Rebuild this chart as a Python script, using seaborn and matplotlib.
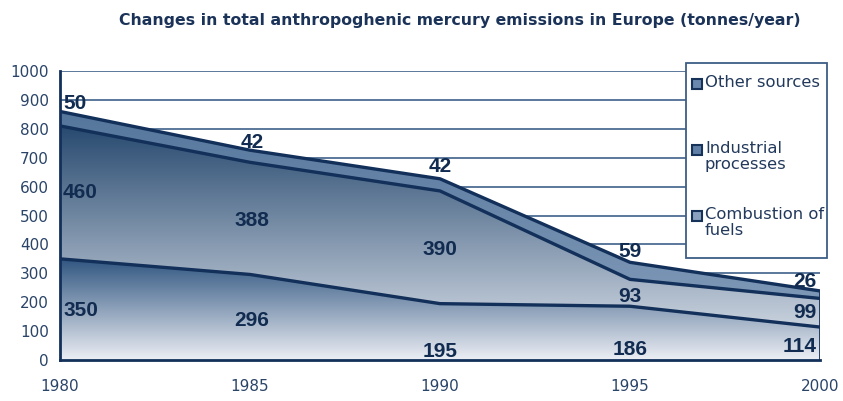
import numpy as np
import pandas as pd
import matplotlib
matplotlib.use("Agg")
import matplotlib.pyplot as plt
from matplotlib.colors import LinearSegmentedColormap
from matplotlib.patches import Rectangle
import seaborn as sns

years = [1980, 1985, 1990, 1995, 2000]
combustion = [350, 296, 195, 186, 114]
industrial = [460, 388, 390, 93, 99]
other = [50, 42, 42, 59, 26]
series_names = ["Combustion of fuels", "Industrial processes", "Other sources"]
legend_labels = ["Other sources", "Industrial\nprocesses", "Combustion of\nfuels"]
title = "Changes in total anthropoghenic mercury emissions in Europe (tonnes/year)"
yticks = list(range(0, 1001, 100))

sns.set_style("white")
plt.rcParams['font.family'] = ['DejaVu Sans']

df = pd.DataFrame({"year": years, "Combustion of fuels": combustion,
                   "Industrial processes": industrial, "Other sources": other})
c1 = np.array(combustion, dtype=float)
c2 = c1 + np.array(industrial)
c3 = c2 + np.array(other)

W, H = 843, 401
fig = plt.figure(figsize=(W / 100, H / 100), dpi=100)
ax = fig.add_axes([60 / W, 1 - 360 / H, 760 / W, 289 / H])

navy = "#12305a"

ax.set_xlim(1980, 2000)
ax.set_ylim(0, 1000)
ax.set_yticks(yticks)
ax.set_xticks(years)
ax.grid(axis="y", color="#4d6d93", lw=1.3, zorder=0)
ax.set_axisbelow(True)

layers = [
    (np.zeros(5), c1, "#2f5580", "#eceef4"),
    (c1, c2, "#27496f", "#c9d2de"),
    (c2, c3, "#55769c", "#7d97b6"),
]
for lo, hi, ctop, cbot in layers:
    poly = ax.fill_between(years, lo, hi, color="none", lw=0, zorder=2)
    ymin, ymax = lo.min(), hi.max()
    cmap = LinearSegmentedColormap.from_list("g", [cbot, ctop])
    grad = np.linspace(0, 1, 256).reshape(-1, 1)
    im = ax.imshow(grad, cmap=cmap, aspect="auto", origin="lower",
                   extent=[1980, 2000, ymin, ymax], zorder=2, interpolation="bilinear")
    path = poly.get_paths()[0]
    im.set_clip_path(path, transform=ax.transData)

for vals in (c1, c2, c3):
    sns.lineplot(x=years, y=vals, ax=ax, color=navy, lw=2.4, zorder=4)
ax.plot([2000, 2000], [0, c3[-1]], color=navy, lw=2.0, zorder=4)

ax.set_xlim(1980, 2000)
ax.set_ylim(0, 1000)

for s in ["top", "right"]:
    ax.spines[s].set_visible(False)
for s in ["left", "bottom"]:
    ax.spines[s].set_color(navy)
    ax.spines[s].set_linewidth(2.0)
    ax.spines[s].set_zorder(5)
ax.tick_params(axis="both", direction="out", length=5, width=1.2, color=navy,
               labelsize=11, labelcolor="#2a4468", pad=3)
ax.tick_params(axis="x", pad=9)

# value labels
lab_y = {
    "other": [889, 754, 668, 377, 273],
    "industrial": [578, 484, 384, 218, 163],
    "combustion": [170, 138, 31, 35, 45],
}
lab_x = [1980.08, 1985.05, 1990.0, 1995.0, 1999.9]
ha = ["left", "center", "center", "center", "right"]
for key, vals in (("other", other), ("industrial", industrial), ("combustion", combustion)):
    for i, v in enumerate(vals):
        ax.text(lab_x[i], lab_y[key][i], str(v), ha=ha[i], va="center",
                fontsize=15, fontweight="bold", color="#112c50", zorder=6,
                family=["Liberation Sans", "DejaVu Sans"])

fig.text(460 / W, 1 - 20 / H, title, ha="center", va="center",
         fontsize=11.3, fontweight="bold", color="#1b3358")

# legend box (manual, matching reference layout)
to_fig = lambda x, y: (x / W, 1 - y / H)
lx0, ly0, lx1, ly1 = 686, 63, 827, 258
fig.patches.append(Rectangle(to_fig(lx0, ly1), (lx1 - lx0) / W, (ly1 - ly0) / H,
                             transform=fig.transFigure, facecolor="white",
                             edgecolor="#3d5e86", lw=1.3, zorder=10))
ys = [84, 150, 216]
mk_col = ["#6a88ad", "#5f7fa6", "#8aa2c0"]
for y, lab, mc in zip(ys, legend_labels, mk_col):
    fig.patches.append(Rectangle(to_fig(692, y + 5), 10 / W, 10 / H,
                                 transform=fig.transFigure, facecolor=mc,
                                 edgecolor="#163258", lw=1.5, zorder=11))
    fig.text(705 / W, 1 - (y - 9) / H, lab, ha="left", va="top", fontsize=11.8,
             color="#22395c", zorder=12, linespacing=1.1)

fig.savefig("out.png", dpi=100, facecolor="white")
